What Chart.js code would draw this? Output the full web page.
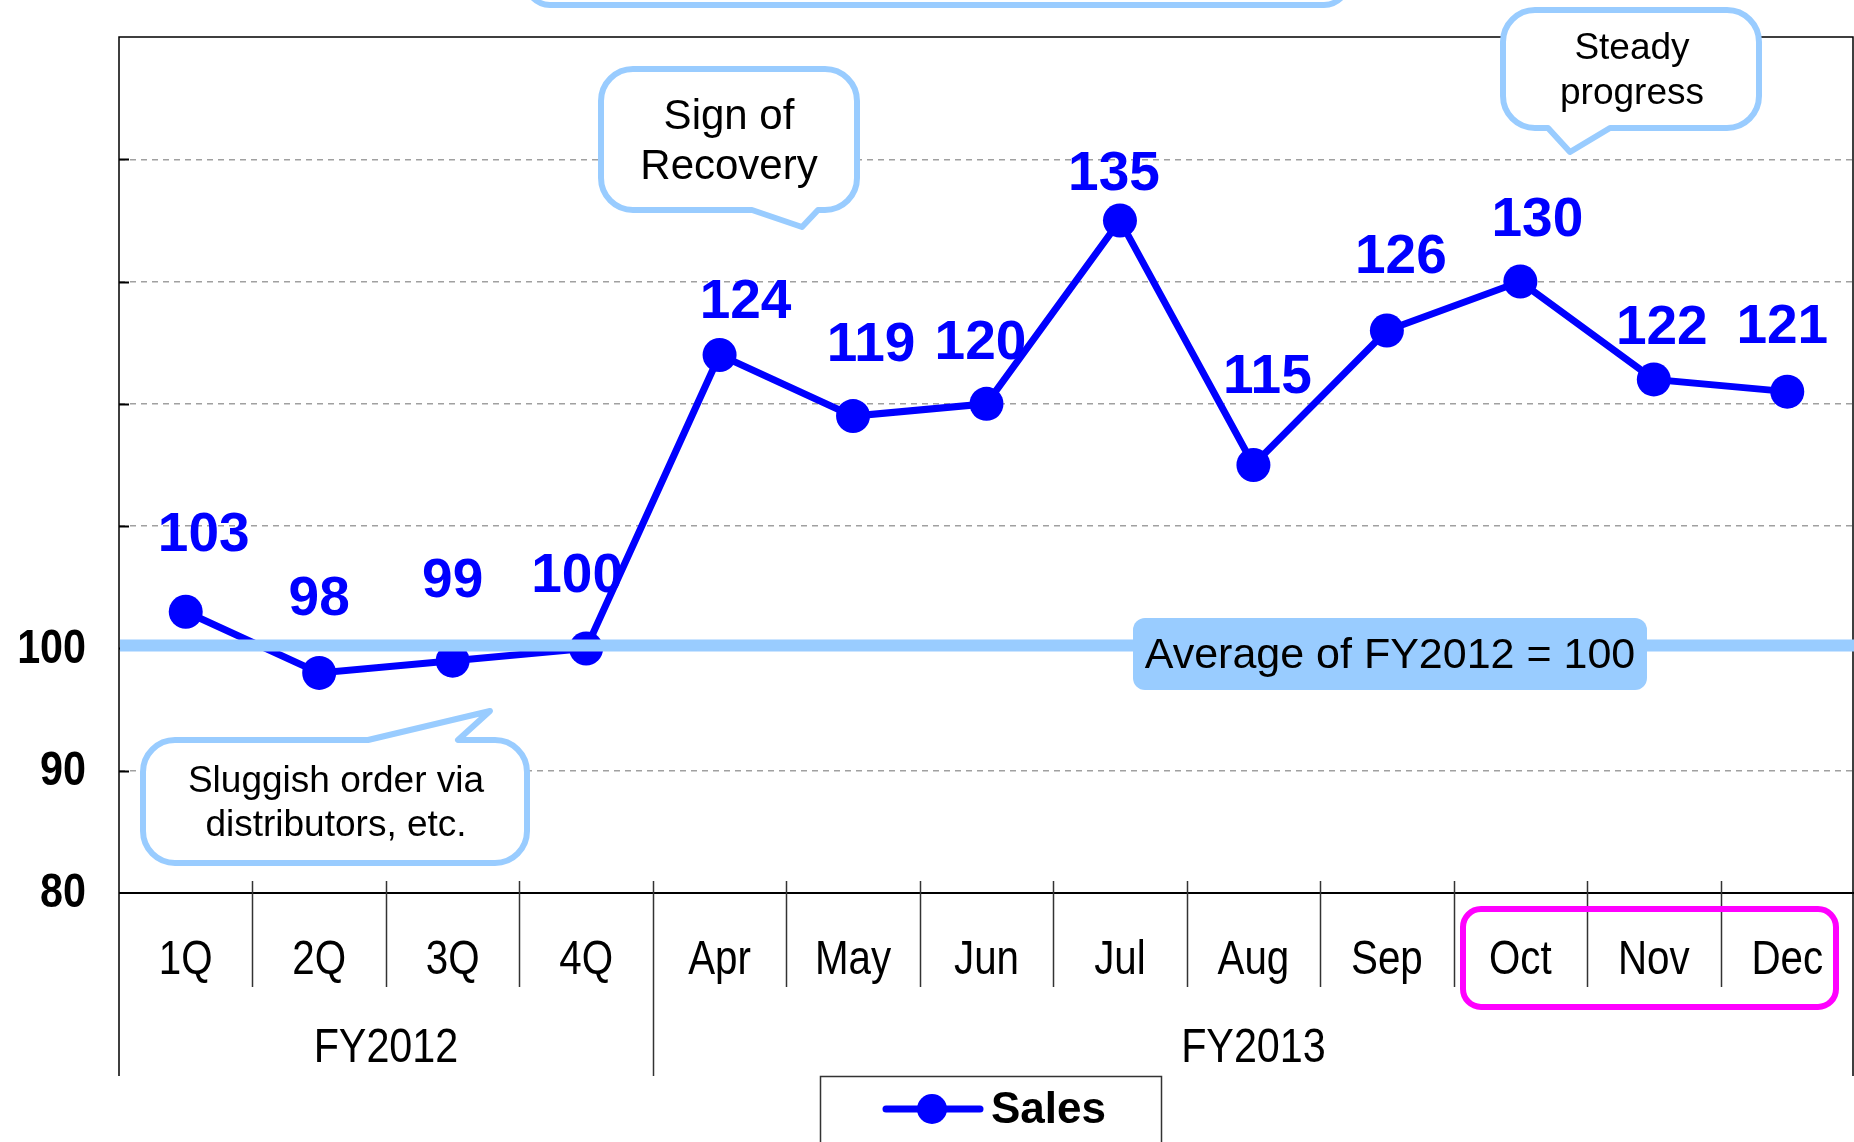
<!DOCTYPE html>
<html>
<head>
<meta charset="utf-8">
<script src="https://cdn.jsdelivr.net/npm/chart.js@4.4.0/dist/chart.umd.min.js"></script>
<style>
  html, body { margin: 0; padding: 0; background: #fff; }
  #wrap { width: 1854px; height: 1142px; position: relative; }
</style>
</head>
<body>
<div id="wrap"><canvas id="chart"></canvas></div>
<script>
// --- data ---
const categories = ['1Q', '2Q', '3Q', '4Q', 'Apr', 'May', 'Jun', 'Jul', 'Aug', 'Sep', 'Oct', 'Nov', 'Dec'];
const sales = [103, 98, 99, 100, 124, 119, 120, 135, 115, 126, 130, 122, 121];
const groups = [
    { label: 'FY2012', from: 0, to: 3 },
    { label: 'FY2013', from: 4, to: 12 }
];
const yLabelled = [80, 90, 100];
const baseline = 100;
const baselineText = 'Average of FY2012 = 100';

// label nudges (px) so the numbers sit where the original put them
const labelShift = [
    [18, -76], [0, -73], [0, -79], [-9, -72], [26, -52], [18, -70], [-6, -60],
    [-6, -46], [14, -87], [14, -73], [17, -61], [8, -51], [-5, -64]
];

const BLUE = '#0000ff';
const LIGHT = '#99ccff';
const SANS = '"Liberation Sans", Arial, sans-serif';

// the axis text of the original is a condensed face: squeeze it sideways
function squeezed(ctx, text, x, y, sx) {
    ctx.save();
    ctx.translate(x, y);
    ctx.scale(sx, 1);
    ctx.fillText(text, 0, 0);
    ctx.restore();
}

// rounded box with an optional speech tail on the top or bottom edge
function calloutPath(ctx, x1, y1, x2, y2, r, tail) {
    ctx.beginPath();
    ctx.moveTo(x1 + r, y1);
    if (tail && tail.side === 'top') {
        ctx.lineTo(tail.a, y1);
        ctx.lineTo(tail.tx, tail.ty);
        ctx.lineTo(tail.b, y1);
    }
    ctx.arcTo(x2, y1, x2, y2, r);
    ctx.arcTo(x2, y2, x1, y2, r);
    if (tail && tail.side === 'bottom') {
        ctx.lineTo(tail.b, y2);
        ctx.lineTo(tail.tx, tail.ty);
        ctx.lineTo(tail.a, y2);
    }
    ctx.arcTo(x1, y2, x1, y1, r);
    ctx.arcTo(x1, y1, x2, y1, r);
    ctx.closePath();
}

function drawCallout(ctx, box, lines, font, lineGap) {
    calloutPath(ctx, box.x1, box.y1, box.x2, box.y2, box.r, box.tail);
    ctx.fillStyle = '#fff';
    ctx.fill();
    ctx.lineWidth = 6;
    ctx.strokeStyle = LIGHT;
    ctx.lineJoin = 'round';
    ctx.stroke();
    ctx.fillStyle = '#000';
    ctx.font = font;
    ctx.textAlign = 'center';
    ctx.textBaseline = 'middle';
    lines.forEach((t, i) => ctx.fillText(t, box.cx, box.cy + (i - (lines.length - 1) / 2) * lineGap));
}

const frame = {
    id: 'frame',
    beforeDatasetsDraw(chart) {
        const { ctx, chartArea: a, scales: { x, y } } = chart;
        ctx.save();
        // short inner ticks on the value axis
        ctx.strokeStyle = '#000';
        ctx.lineWidth = 2;
        for (let v = 90; v < 150; v += 10) {
            const py = Math.round(y.getPixelForValue(v)) + 0.5;
            ctx.beginPath();
            ctx.moveTo(a.left, py);
            ctx.lineTo(a.left + 10, py);
            ctx.stroke();
        }
        // plot border
        ctx.lineWidth = 1.5;
        ctx.beginPath();
        ctx.moveTo(a.left, 1076);
        ctx.lineTo(a.left, a.top);
        ctx.lineTo(a.right - 1, a.top);
        ctx.lineTo(a.right - 1, 1076);
        ctx.stroke();
        ctx.lineWidth = 2;
        ctx.beginPath();
        ctx.moveTo(a.left, a.bottom);
        ctx.lineTo(a.right, a.bottom);
        ctx.stroke();
        // category separators
        ctx.lineWidth = 1.5;
        ctx.strokeStyle = '#333';
        for (let i = 1; i < categories.length; i++) {
            const px = Math.round((x.getPixelForValue(i) + x.getPixelForValue(i - 1)) / 2) + 0.5;
            const groupEdge = groups.some(g => g.from === i);
            ctx.beginPath();
            ctx.moveTo(px, a.bottom - 12);
            ctx.lineTo(px, groupEdge ? 1076 : 987);
            ctx.stroke();
        }
        // value axis labels
        ctx.fillStyle = '#000';
        ctx.font = 'bold 48px ' + SANS;
        ctx.textAlign = 'right';
        ctx.textBaseline = 'middle';
        yLabelled.forEach(v => squeezed(ctx, String(v), 86, y.getPixelForValue(v) + 1, 0.86));
        // category labels and group labels
        ctx.font = '48px ' + SANS;
        ctx.textAlign = 'center';
        categories.forEach((c, i) => squeezed(ctx, c, x.getPixelForValue(i), 961, 0.84));
        groups.forEach(g => {
            const left = g.from === 0 ? a.left : (x.getPixelForValue(g.from) + x.getPixelForValue(g.from - 1)) / 2;
            const right = g.to === categories.length - 1 ? a.right : (x.getPixelForValue(g.to) + x.getPixelForValue(g.to + 1)) / 2;
            squeezed(ctx, g.label, (left + right) / 2, 1049, 0.86);
        });

        // callouts sit over the grid
        drawCallout(ctx, { x1: 601, y1: 69, x2: 857, y2: 210, r: 32, cx: 729, cy: 142,
            tail: { side: 'bottom', a: 752, b: 818, tx: 802, ty: 227 } },
            ['Sign of', 'Recovery'], '42px ' + SANS, 50);
        drawCallout(ctx, { x1: 1503, y1: 10, x2: 1759, y2: 128, r: 32, cx: 1632, cy: 71,
            tail: { side: 'bottom', a: 1548, b: 1610, tx: 1570, ty: 152 } },
            ['Steady', 'progress'], '37px ' + SANS, 45);
        drawCallout(ctx, { x1: 143, y1: 740, x2: 527, y2: 863, r: 32, cx: 336, cy: 804,
            tail: { side: 'top', a: 368, b: 458, tx: 490, ty: 711 } },
            ['Sluggish order via', 'distributors, etc.'], '37px ' + SANS, 44);
        // title box cut off at the top edge
        calloutPath(ctx, 526, -60, 1348, 5, 24, null);
        ctx.lineWidth = 6;
        ctx.strokeStyle = LIGHT;
        ctx.stroke();
        ctx.restore();
    },
    afterDatasetsDraw(chart) {
        const { ctx, chartArea: a, scales: { y } } = chart;
        const meta = chart.getDatasetMeta(0);
        ctx.save();
        // average line over the series
        const by = y.getPixelForValue(baseline) - 3;
        ctx.strokeStyle = LIGHT;
        ctx.lineWidth = 12;
        ctx.beginPath();
        ctx.moveTo(a.left + 1, by);
        ctx.lineTo(a.right, by);
        ctx.stroke();
        calloutPath(ctx, 1133, 618, 1647, 690, 12, null);
        ctx.fillStyle = LIGHT;
        ctx.fill();
        ctx.fillStyle = '#000';
        ctx.font = '43px ' + SANS;
        ctx.textAlign = 'center';
        ctx.textBaseline = 'middle';
        ctx.fillText(baselineText, 1390, 656);

        // value labels
        ctx.fillStyle = BLUE;
        ctx.font = 'bold 55px ' + SANS;
        meta.data.forEach((pt, i) => {
            const [dx, dy] = labelShift[i];
            ctx.fillText(String(sales[i]), pt.x + dx, pt.y + dy);
        });
        ctx.restore();
    },
    afterDraw(chart) {
        const ctx = chart.ctx;
        ctx.save();
        // highlight of the latest quarter
        calloutPath(ctx, 1463, 909, 1836, 1007, 18, null);
        ctx.strokeStyle = '#ff00ff';
        ctx.lineWidth = 6;
        ctx.stroke();
        // legend
        ctx.strokeStyle = '#333';
        ctx.lineWidth = 1.5;
        ctx.strokeRect(820.5, 1076.5, 341, 90);
        ctx.strokeStyle = BLUE;
        ctx.lineWidth = 7;
        ctx.lineCap = 'round';
        ctx.beginPath();
        ctx.moveTo(886, 1109);
        ctx.lineTo(980, 1109);
        ctx.stroke();
        ctx.fillStyle = BLUE;
        ctx.beginPath();
        ctx.arc(932, 1109, 15, 0, Math.PI * 2);
        ctx.fill();
        ctx.fillStyle = '#000';
        ctx.font = 'bold 44px ' + SANS;
        ctx.textAlign = 'left';
        ctx.textBaseline = 'middle';
        ctx.fillText('Sales', 991, 1111);
        ctx.restore();
    }
};

new Chart(document.getElementById('chart'), {
    type: 'line',
    data: {
        labels: categories,
        datasets: [{
            label: 'Sales',
            data: sales,
            borderColor: BLUE,
            backgroundColor: BLUE,
            borderWidth: 7,
            pointRadius: 17,
            pointHoverRadius: 17,
            pointBorderWidth: 0,
            pointBackgroundColor: BLUE,
            tension: 0
        }]
    },
    options: {
        responsive: true,
        maintainAspectRatio: false,
        animation: false,
        events: [],
        layout: { autoPadding: false, padding: { top: 37, right: 0, left: 0, bottom: 0 } },
        plugins: { legend: { display: false }, tooltip: { enabled: false } },
        scales: {
            x: {
                offset: true,
                afterFit: s => { s.height = 249; },
                grid: { display: false, drawTicks: false },
                border: { display: false },
                ticks: { display: false, autoSkip: false }
            },
            y: {
                min: 80,
                max: 150,
                afterFit: s => { s.width = 119; },
                grid: {
                    drawTicks: false,
                    color: c => (c.tick.value > 80 && c.tick.value < 150) ? '#a0a0a0' : 'rgba(0,0,0,0)',
                    lineWidth: 1.5
                },
                border: { display: false, dash: [6, 5] },
                ticks: { display: false, stepSize: 10 }
            }
        }
    },
    plugins: [frame]
});
</script>
</body>
</html>
